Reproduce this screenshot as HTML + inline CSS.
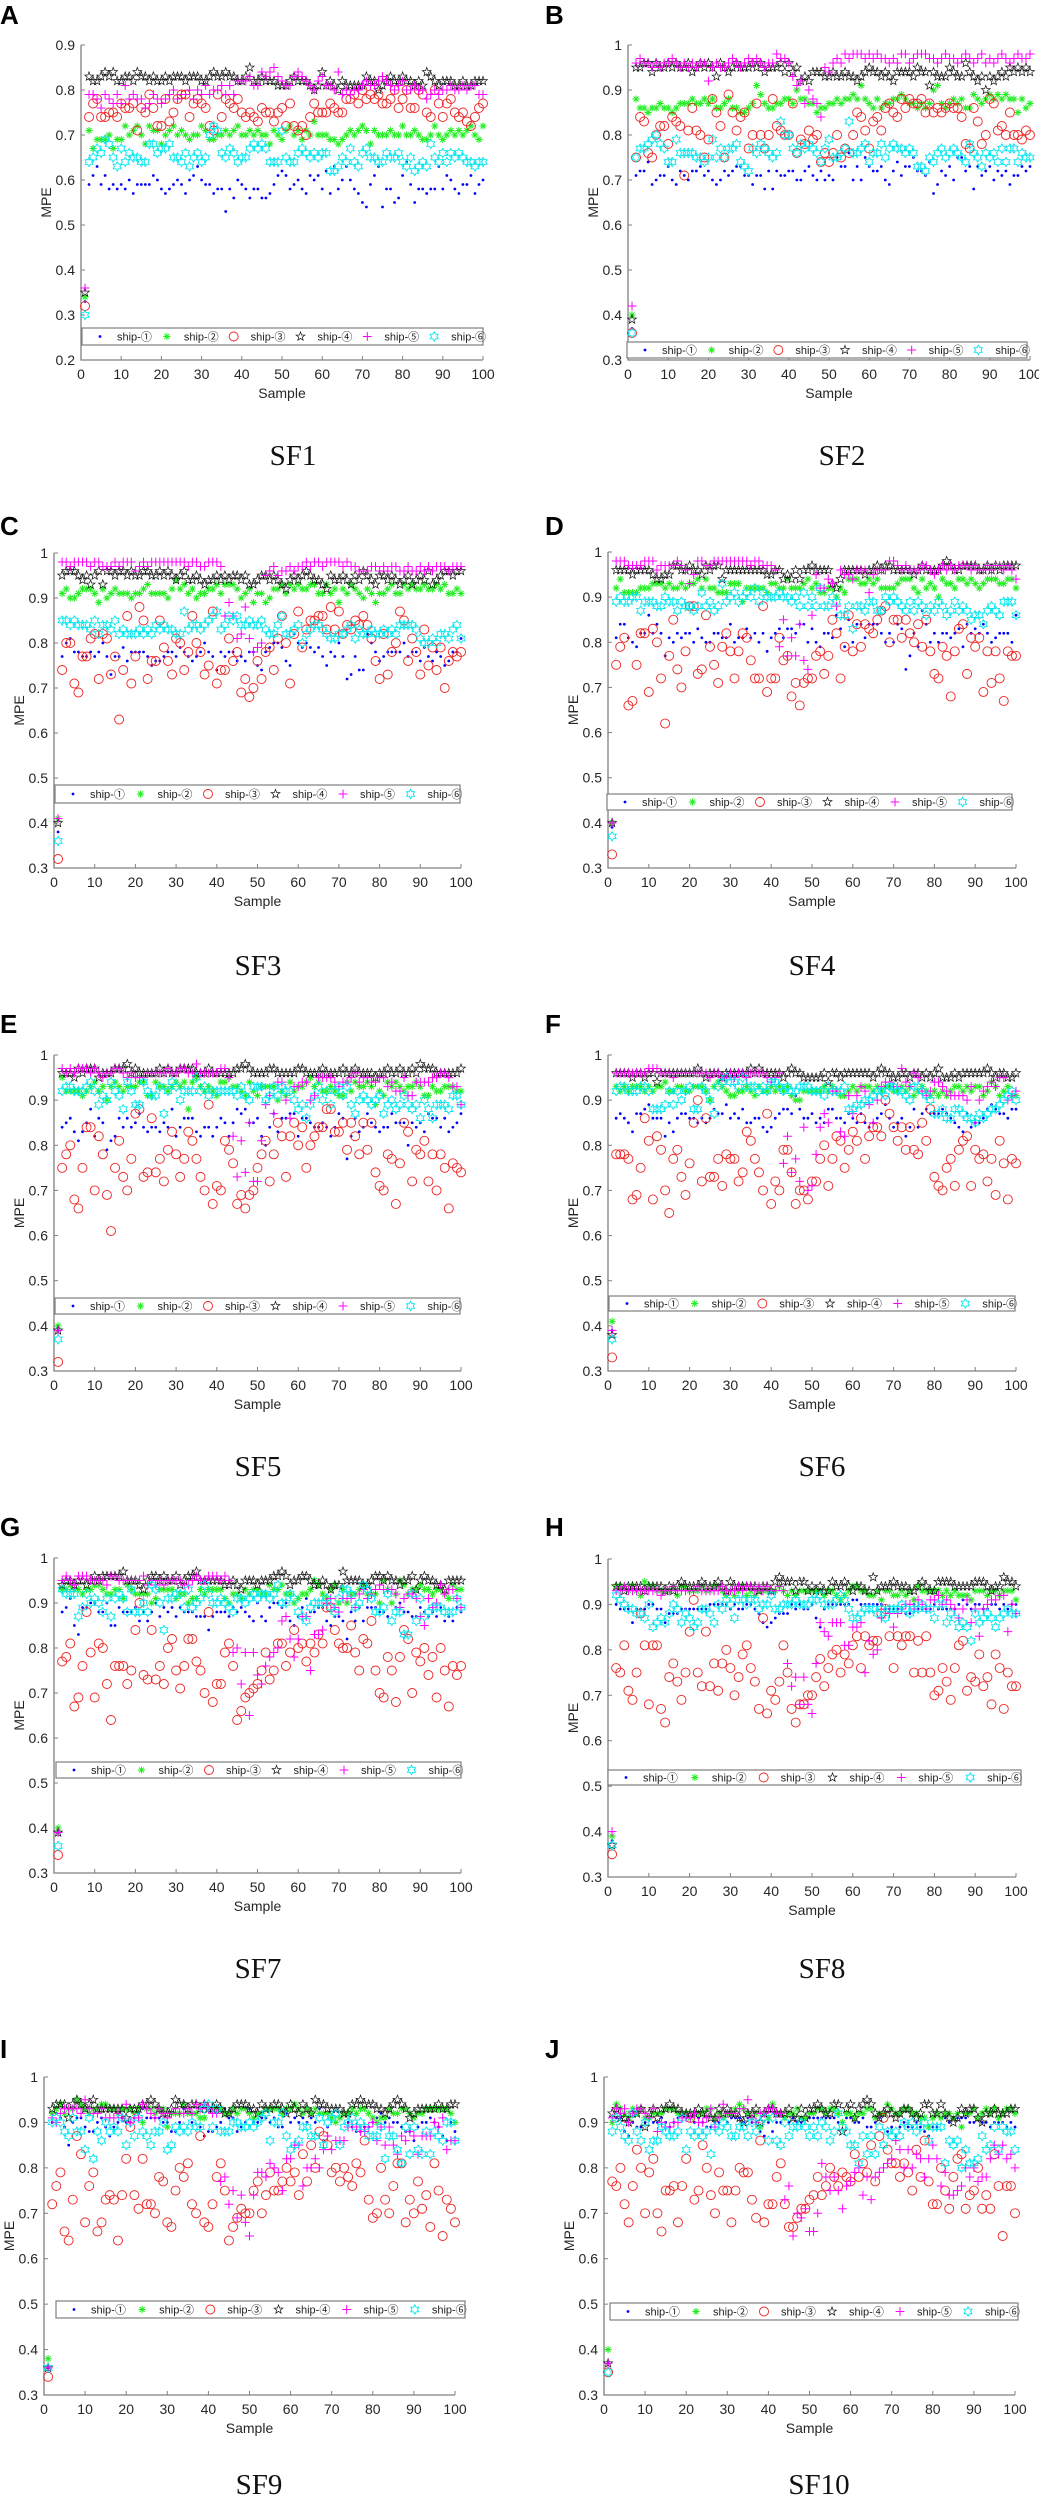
<!DOCTYPE html>
<html><head><meta charset="utf-8"><style>
html,body{margin:0;padding:0;background:#fff;}
svg{display:block;}
text{font-family:"Liberation Sans",sans-serif;}
</style></head>
<body>
<svg id="fig" xmlns="http://www.w3.org/2000/svg" width="1039" height="2500" viewBox="0 0 1039 2500"></svg>
<script>
// ===== DATA (MPE values per sample 1..100) =====
const sf1_s1=[.33,.59,.61,.63,.59,.61,.58,.59,.58,.59,.58,.60,.57,.59,.59,.59,.59,.61,.60,.58,.57,.58,.59,.60,.59,.57,.60,.61,.63,.60,.59,.59,.57,.58,.58,.53,.58,.56,.60,.59,.58,.56,.58,.58,.56,.56,.57,.59,.61,.62,.61,.58,.59,.60,.58,.57,.61,.60,.61,.58,.62,.57,.63,.58,.60,.63,.60,.58,.57,.55,.54,.59,.61,.63,.54,.58,.58,.55,.56,.61,.64,.59,.55,.58,.58,.57,.58,.58,.63,.58,.61,.60,.58,.57,.59,.59,.61,.57,.59,.60];
const sf1_s2=[.34,.71,.67,.69,.69,.69,.70,.67,.69,.69,.72,.70,.71,.72,.70,.68,.72,.71,.71,.68,.70,.71,.72,.70,.71,.70,.69,.70,.70,.72,.71,.69,.69,.70,.70,.71,.70,.71,.72,.70,.70,.71,.70,.71,.70,.70,.68,.71,.70,.69,.71,.72,.70,.71,.69,.71,.70,.73,.70,.70,.70,.69,.69,.68,.69,.70,.71,.70,.71,.72,.71,.68,.71,.70,.70,.70,.71,.70,.70,.72,.70,.70,.71,.70,.69,.69,.70,.72,.70,.69,.70,.71,.70,.71,.70,.71,.72,.70,.69,.72];
const sf1_s3=[.32,.74,.77,.78,.74,.74,.75,.75,.74,.77,.76,.76,.77,.71,.76,.75,.79,.76,.72,.72,.78,.73,.75,.78,.79,.79,.74,.77,.78,.77,.76,.72,.71,.79,.74,.78,.77,.76,.78,.75,.74,.75,.74,.73,.76,.75,.75,.73,.75,.76,.72,.77,.72,.71,.72,.70,.74,.77,.75,.75,.75,.77,.76,.75,.75,.78,.78,.79,.77,.80,.78,.79,.78,.79,.77,.77,.78,.80,.76,.78,.80,.76,.76,.80,.79,.75,.74,.80,.77,.74,.77,.78,.75,.74,.75,.73,.72,.74,.76,.77];
const sf1_s4=[.35,.83,.82,.82,.83,.84,.83,.84,.82,.82,.83,.83,.82,.84,.83,.83,.82,.83,.82,.82,.83,.82,.83,.83,.83,.82,.83,.83,.83,.82,.82,.83,.84,.83,.83,.84,.83,.83,.82,.82,.83,.85,.82,.82,.83,.82,.82,.82,.81,.81,.81,.82,.83,.82,.82,.82,.81,.80,.81,.84,.81,.82,.81,.80,.82,.81,.81,.81,.81,.81,.83,.82,.82,.80,.81,.82,.83,.82,.82,.83,.82,.82,.81,.82,.81,.84,.83,.82,.81,.82,.82,.82,.81,.81,.82,.81,.81,.82,.82,.82];
const sf1_s5=[.36,.79,.79,.78,.76,.79,.78,.77,.79,.77,.81,.78,.79,.78,.78,.76,.77,.79,.78,.77,.78,.79,.80,.78,.79,.79,.80,.78,.80,.79,.81,.79,.80,.80,.81,.79,.81,.79,.82,.82,.82,.83,.81,.81,.84,.83,.84,.85,.83,.82,.81,.81,.83,.84,.83,.82,.81,.80,.82,.83,.81,.81,.80,.84,.79,.80,.79,.80,.80,.81,.82,.81,.81,.82,.83,.82,.81,.80,.81,.82,.80,.80,.81,.80,.80,.78,.79,.80,.79,.80,.80,.81,.80,.80,.81,.80,.81,.81,.79,.79];
const sf1_s6=[.30,.64,.65,.67,.66,.69,.68,.65,.63,.67,.64,.66,.65,.65,.64,.64,.68,.68,.66,.67,.67,.68,.65,.65,.64,.66,.63,.65,.66,.64,.65,.70,.72,.71,.66,.65,.67,.66,.64,.65,.65,.67,.68,.67,.68,.67,.64,.64,.64,.71,.65,.64,.64,.66,.67,.66,.65,.66,.65,.66,.66,.62,.62,.63,.65,.64,.67,.64,.63,.66,.67,.65,.65,.64,.64,.66,.65,.65,.66,.64,.63,.65,.62,.63,.64,.63,.68,.65,.64,.66,.64,.66,.65,.66,.65,.64,.64,.63,.64,.64];

const sf2_s1=[.37,.71,.72,.72,.74,.69,.70,.71,.71,.73,.70,.69,.72,.71,.70,.72,.72,.73,.71,.72,.70,.69,.70,.72,.71,.72,.73,.73,.71,.71,.69,.71,.71,.68,.72,.68,.72,.71,.71,.72,.72,.70,.70,.72,.73,.71,.70,.72,.70,.71,.70,.75,.73,.73,.76,.70,.73,.70,.75,.73,.72,.72,.73,.70,.69,.72,.74,.71,.73,.73,.75,.72,.72,.71,.74,.67,.69,.72,.71,.73,.70,.75,.75,.72,.73,.68,.73,.71,.72,.73,.70,.72,.71,.72,.69,.71,.71,.73,.72,.73];
const sf2_s2=[.40,.88,.86,.86,.85,.86,.86,.87,.86,.86,.85,.86,.87,.87,.87,.88,.87,.87,.88,.87,.88,.86,.86,.87,.88,.86,.86,.85,.85,.86,.87,.91,.89,.87,.86,.86,.87,.87,.88,.88,.87,.90,.88,.88,.87,.87,.85,.86,.86,.87,.87,.88,.87,.88,.88,.89,.88,.91,.88,.87,.86,.88,.86,.87,.87,.88,.88,.89,.88,.87,.87,.86,.87,.86,.87,.90,.91,.87,.86,.87,.88,.87,.88,.86,.86,.89,.88,.87,.88,.89,.88,.89,.88,.89,.88,.88,.85,.88,.86,.87];
const sf2_s3=[.36,.75,.84,.83,.76,.75,.80,.82,.82,.78,.84,.83,.82,.71,.81,.86,.81,.80,.75,.79,.88,.85,.82,.75,.89,.85,.81,.84,.85,.77,.80,.87,.80,.77,.80,.88,.82,.81,.80,.80,.87,.76,.79,.78,.81,.79,.80,.74,.76,.74,.76,.80,.75,.77,.76,.80,.85,.84,.81,.77,.83,.84,.81,.86,.87,.85,.84,.88,.86,.88,.87,.87,.88,.85,.87,.85,.86,.85,.86,.87,.86,.86,.84,.78,.77,.86,.83,.78,.80,.88,.87,.81,.82,.80,.85,.80,.80,.79,.81,.80];
const sf2_s4=[.39,.95,.95,.96,.96,.94,.96,.95,.95,.96,.95,.96,.95,.95,.96,.94,.95,.96,.95,.96,.95,.93,.96,.95,.94,.95,.96,.95,.95,.95,.96,.95,.96,.94,.95,.95,.95,.96,.94,.96,.94,.95,.92,.93,.92,.94,.94,.94,.93,.93,.94,.93,.93,.94,.93,.93,.92,.93,.94,.95,.94,.94,.93,.94,.93,.92,.94,.94,.94,.94,.93,.95,.94,.94,.91,.94,.93,.93,.93,.95,.94,.93,.93,.96,.94,.93,.92,.93,.90,.93,.92,.93,.94,.93,.95,.94,.95,.94,.95,.94];
const sf2_s5=[.42,.96,.97,.96,.96,.95,.96,.95,.96,.96,.97,.96,.95,.96,.95,.96,.95,.96,.96,.92,.95,.96,.95,.95,.96,.97,.96,.95,.96,.97,.96,.97,.96,.95,.96,.96,.98,.97,.97,.96,.93,.91,.92,.87,.90,.88,.87,.84,.95,.94,.96,.97,.96,.98,.97,.98,.98,.98,.97,.98,.97,.98,.97,.97,.96,.97,.96,.98,.98,.96,.97,.98,.98,.98,.97,.97,.96,.97,.98,.97,.97,.96,.97,.98,.97,.96,.97,.98,.96,.97,.96,.97,.98,.97,.96,.97,.98,.97,.97,.98];
const sf2_s6=[.36,.75,.77,.77,.78,.79,.80,.78,.77,.74,.74,.79,.76,.76,.76,.76,.75,.75,.74,.75,.79,.75,.77,.75,.77,.77,.78,.74,.73,.72,.77,.76,.78,.77,.76,.75,.76,.83,.80,.80,.77,.76,.78,.77,.78,.77,.76,.74,.77,.79,.75,.75,.76,.77,.83,.76,.76,.77,.78,.74,.76,.76,.78,.75,.77,.78,.77,.77,.76,.77,.76,.73,.73,.72,.75,.74,.76,.77,.75,.76,.77,.76,.75,.74,.78,.76,.75,.73,.76,.75,.76,.74,.77,.74,.77,.77,.74,.76,.75,.75];

const sf3_s1=[.38,.77,.80,.81,.78,.78,.77,.77,.78,.77,.78,.80,.77,.73,.77,.77,.79,.76,.78,.78,.78,.78,.77,.75,.76,.76,.77,.78,.78,.77,.79,.78,.77,.76,.77,.78,.80,.78,.77,.74,.78,.77,.78,.78,.76,.77,.76,.78,.78,.75,.74,.78,.79,.80,.80,.79,.76,.75,.82,.80,.79,.80,.79,.78,.79,.77,.75,.78,.77,.80,.77,.72,.73,.77,.74,.74,.82,.80,.78,.76,.77,.78,.78,.78,.78,.80,.77,.78,.78,.76,.79,.77,.76,.78,.77,.75,.76,.78,.78,.81];
const sf3_s2=[.41,.91,.92,.90,.90,.91,.92,.92,.92,.91,.89,.92,.90,.91,.92,.91,.91,.91,.90,.91,.91,.92,.93,.91,.91,.91,.91,.90,.92,.94,.92,.93,.91,.92,.90,.91,.91,.92,.92,.93,.91,.93,.93,.93,.92,.90,.91,.92,.89,.91,.91,.89,.90,.92,.92,.93,.91,.93,.92,.93,.92,.92,.93,.93,.91,.91,.93,.91,.92,.89,.92,.91,.93,.92,.91,.90,.92,.91,.89,.91,.91,.92,.93,.91,.91,.93,.92,.93,.92,.92,.93,.92,.92,.93,.92,.93,.91,.91,.92,.91];
const sf3_s3=[.32,.74,.80,.80,.71,.69,.77,.77,.81,.82,.72,.82,.81,.73,.77,.63,.74,.86,.71,.77,.88,.85,.72,.76,.76,.85,.79,.76,.73,.81,.80,.74,.78,.86,.80,.78,.73,.75,.87,.71,.74,.74,.81,.76,.78,.69,.72,.68,.70,.76,.72,.78,.79,.74,.81,.86,.80,.71,.82,.87,.79,.83,.85,.85,.86,.86,.83,.88,.83,.87,.82,.84,.83,.85,.84,.86,.84,.81,.76,.72,.82,.73,.78,.80,.87,.85,.76,.81,.78,.73,.83,.75,.79,.74,.79,.70,.76,.78,.77,.78];
const sf3_s4=[.40,.95,.96,.96,.96,.95,.94,.95,.93,.95,.96,.93,.96,.96,.95,.96,.96,.95,.96,.95,.95,.96,.96,.95,.95,.96,.95,.96,.95,.94,.95,.96,.94,.94,.95,.94,.93,.94,.94,.95,.94,.95,.94,.95,.95,.94,.95,.93,.93,.94,.95,.95,.94,.95,.94,.93,.92,.94,.95,.94,.95,.96,.95,.94,.94,.93,.92,.95,.94,.94,.95,.94,.93,.95,.94,.96,.95,.94,.93,.95,.95,.94,.95,.94,.93,.94,.95,.93,.94,.95,.94,.96,.93,.94,.95,.96,.96,.95,.96,.96];
const sf3_s5=[.41,.98,.98,.97,.98,.98,.98,.98,.97,.98,.98,.97,.97,.97,.98,.97,.98,.98,.98,.96,.97,.98,.97,.98,.98,.98,.98,.98,.98,.98,.98,.98,.97,.98,.98,.97,.97,.98,.98,.98,.97,.86,.89,.86,.81,.82,.88,.81,.78,.79,.80,.95,.96,.97,.95,.96,.96,.97,.96,.97,.97,.98,.97,.98,.98,.97,.98,.98,.98,.98,.97,.98,.97,.97,.96,.96,.96,.97,.97,.96,.97,.96,.97,.97,.96,.96,.97,.96,.96,.97,.96,.97,.96,.97,.97,.97,.96,.97,.97,.97];
const sf3_s6=[.36,.85,.85,.84,.85,.84,.84,.84,.83,.85,.82,.84,.84,.83,.85,.82,.83,.82,.82,.82,.83,.82,.83,.82,.84,.83,.84,.83,.83,.82,.82,.87,.83,.84,.84,.83,.84,.85,.86,.87,.83,.84,.86,.85,.86,.84,.84,.85,.84,.84,.85,.83,.82,.82,.84,.86,.82,.82,.83,.84,.80,.82,.83,.84,.84,.83,.82,.81,.81,.82,.82,.83,.84,.81,.83,.82,.82,.83,.82,.82,.83,.82,.83,.82,.84,.84,.84,.84,.83,.81,.80,.80,.81,.80,.82,.82,.81,.83,.84,.81];

const sf4_s1=[.39,.81,.84,.84,.81,.80,.79,.82,.82,.86,.82,.84,.82,.77,.81,.80,.82,.81,.82,.82,.80,.83,.81,.80,.80,.82,.82,.81,.81,.84,.80,.81,.81,.83,.81,.82,.80,.82,.78,.81,.82,.83,.81,.83,.83,.82,.84,.84,.80,.83,.80,.79,.82,.82,.81,.86,.83,.79,.85,.80,.84,.84,.81,.84,.84,.84,.82,.80,.82,.80,.84,.83,.74,.77,.82,.79,.87,.84,.80,.82,.80,.82,.82,.81,.82,.83,.79,.84,.82,.83,.82,.84,.82,.80,.81,.82,.82,.82,.80,.86];
const sf4_s2=[.40,.92,.94,.91,.91,.91,.91,.92,.92,.92,.93,.93,.93,.92,.93,.92,.92,.93,.92,.93,.93,.94,.92,.94,.92,.92,.91,.91,.91,.93,.93,.93,.89,.92,.92,.92,.92,.92,.91,.93,.93,.92,.92,.94,.92,.92,.92,.93,.94,.92,.93,.91,.91,.92,.92,.90,.92,.91,.94,.94,.94,.93,.93,.94,.93,.94,.92,.92,.92,.92,.93,.94,.94,.94,.92,.91,.94,.92,.93,.92,.90,.94,.93,.93,.92,.94,.94,.93,.94,.93,.92,.93,.94,.94,.94,.93,.93,.94,.94,.92];
const sf4_s3=[.33,.75,.79,.81,.66,.67,.75,.82,.82,.69,.83,.80,.72,.62,.77,.85,.74,.70,.78,.88,.88,.73,.74,.86,.79,.75,.71,.79,.82,.78,.72,.78,.82,.81,.76,.72,.72,.88,.69,.72,.72,.81,.76,.77,.68,.71,.66,.71,.72,.72,.77,.78,.73,.77,.85,.82,.72,.79,.86,.78,.84,.79,.84,.83,.82,.85,.87,.88,.80,.85,.85,.81,.85,.82,.80,.84,.79,.85,.78,.73,.72,.79,.77,.68,.78,.83,.84,.73,.81,.79,.81,.69,.78,.71,.78,.72,.67,.78,.77,.77];
const sf4_s4=[.40,.96,.96,.96,.96,.95,.96,.96,.96,.96,.95,.94,.94,.95,.95,.97,.97,.96,.96,.97,.96,.96,.95,.97,.96,.97,.97,.94,.96,.96,.96,.96,.96,.96,.96,.96,.96,.96,.95,.95,.96,.96,.94,.95,.94,.96,.94,.96,.96,.97,.96,.96,.96,.96,.93,.92,.94,.96,.96,.96,.96,.96,.95,.96,.96,.97,.96,.97,.97,.96,.96,.96,.96,.96,.95,.96,.97,.96,.96,.96,.96,.97,.98,.97,.96,.96,.97,.97,.97,.97,.96,.96,.97,.96,.97,.96,.97,.97,.97,.97];
const sf4_s5=[.40,.98,.98,.98,.97,.97,.97,.97,.98,.98,.98,.96,.97,.97,.97,.97,.98,.97,.96,.93,.95,.98,.98,.97,.97,.98,.98,.98,.98,.98,.98,.98,.98,.98,.97,.98,.98,.97,.97,.97,.96,.79,.85,.77,.81,.77,.84,.76,.74,.86,.95,.92,.92,.94,.93,.88,.96,.95,.95,.94,.96,.96,.96,.91,.95,.96,.96,.96,.98,.98,.97,.96,.97,.96,.96,.96,.97,.97,.96,.95,.96,.97,.96,.97,.96,.97,.97,.97,.96,.97,.96,.96,.97,.96,.97,.97,.96,.97,.96,.94];
const sf4_s6=[.37,.89,.90,.89,.89,.90,.90,.87,.89,.89,.89,.88,.88,.90,.89,.89,.87,.89,.88,.88,.87,.88,.91,.88,.89,.87,.88,.93,.89,.90,.91,.89,.90,.91,.90,.92,.89,.91,.90,.90,.90,.91,.90,.90,.89,.90,.88,.91,.88,.90,.88,.92,.88,.88,.90,.89,.86,.86,.88,.83,.88,.88,.87,.89,.89,.87,.87,.90,.89,.90,.89,.88,.87,.89,.87,.89,.88,.86,.88,.87,.89,.88,.86,.87,.89,.87,.88,.87,.85,.86,.86,.84,.87,.88,.87,.86,.89,.89,.89,.86];

const sf5_s1=[.39,.84,.85,.86,.83,.81,.83,.85,.88,.82,.86,.85,.79,.81,.82,.86,.84,.86,.84,.85,.87,.84,.83,.84,.84,.83,.85,.84,.88,.82,.84,.86,.86,.86,.83,.82,.84,.84,.82,.84,.86,.85,.82,.85,.88,.87,.88,.85,.85,.86,.82,.80,.84,.87,.83,.86,.86,.87,.87,.82,.86,.86,.85,.84,.84,.85,.84,.82,.84,.87,.86,.77,.82,.86,.83,.84,.87,.85,.84,.83,.84,.84,.87,.85,.85,.85,.80,.85,.84,.85,.83,.87,.86,.86,.84,.86,.83,.84,.85,.87];
const sf5_s2=[.40,.95,.92,.92,.92,.92,.91,.92,.93,.94,.92,.93,.90,.93,.94,.93,.92,.93,.93,.93,.94,.94,.91,.91,.94,.93,.93,.92,.93,.94,.93,.94,.88,.94,.95,.93,.92,.93,.92,.91,.94,.94,.95,.93,.93,.92,.91,.94,.92,.91,.93,.93,.93,.93,.90,.92,.91,.94,.92,.93,.93,.94,.95,.93,.94,.92,.92,.93,.92,.91,.91,.94,.92,.94,.93,.93,.94,.93,.89,.92,.91,.94,.93,.94,.93,.92,.93,.93,.94,.93,.91,.91,.93,.92,.92,.93,.93,.93,.92,.92];
const sf5_s3=[.32,.75,.78,.80,.68,.66,.75,.84,.84,.70,.82,.78,.69,.61,.75,.81,.73,.70,.77,.87,.88,.73,.74,.86,.74,.77,.72,.79,.83,.78,.73,.77,.83,.81,.77,.73,.70,.89,.67,.71,.70,.81,.79,.76,.67,.69,.66,.69,.70,.75,.78,.81,.72,.78,.85,.82,.73,.82,.85,.80,.84,.75,.80,.82,.84,.84,.88,.88,.83,.83,.85,.79,.85,.82,.78,.85,.79,.85,.74,.71,.70,.78,.77,.67,.76,.85,.83,.72,.79,.78,.81,.72,.78,.70,.78,.75,.66,.76,.75,.74];
const sf5_s4=[.39,.96,.96,.96,.95,.97,.96,.97,.97,.97,.95,.96,.96,.96,.97,.97,.97,.98,.96,.97,.96,.96,.96,.96,.96,.97,.96,.97,.96,.96,.97,.97,.97,.97,.96,.96,.96,.97,.96,.96,.96,.96,.96,.96,.97,.97,.98,.97,.96,.96,.96,.96,.97,.97,.96,.96,.96,.96,.96,.97,.97,.96,.96,.96,.96,.97,.96,.96,.96,.96,.97,.96,.96,.97,.96,.96,.96,.96,.95,.96,.96,.97,.96,.96,.97,.96,.96,.97,.96,.98,.97,.97,.97,.96,.96,.96,.96,.96,.96,.97];
const sf5_s5=[.39,.97,.96,.97,.96,.97,.97,.97,.96,.97,.96,.95,.96,.96,.97,.97,.96,.95,.96,.95,.95,.95,.96,.96,.96,.96,.96,.97,.96,.96,.97,.97,.96,.96,.98,.96,.96,.96,.96,.96,.97,.97,.95,.82,.73,.81,.74,.85,.72,.72,.81,.89,.91,.87,.94,.94,.90,.86,.93,.93,.94,.94,.90,.91,.95,.95,.95,.95,.94,.93,.94,.94,.95,.96,.94,.95,.95,.94,.94,.95,.95,.93,.94,.92,.92,.95,.91,.91,.94,.94,.94,.94,.95,.95,.96,.96,.95,.93,.93,.89];
const sf5_s6=[.37,.92,.93,.93,.92,.92,.92,.93,.94,.92,.89,.91,.90,.94,.92,.91,.88,.94,.92,.89,.89,.94,.92,.91,.91,.93,.87,.92,.94,.93,.90,.92,.92,.92,.95,.92,.93,.91,.92,.92,.92,.92,.92,.92,.91,.93,.91,.90,.93,.93,.93,.90,.91,.93,.91,.93,.92,.92,.90,.88,.89,.86,.89,.91,.93,.90,.92,.89,.92,.93,.91,.93,.89,.87,.90,.91,.90,.89,.90,.91,.87,.89,.90,.88,.89,.91,.89,.88,.89,.86,.90,.88,.86,.89,.89,.89,.88,.91,.91,.89];

const sf6_s1=[.39,.86,.87,.86,.85,.83,.87,.87,.88,.89,.86,.86,.86,.82,.85,.83,.86,.87,.87,.86,.86,.85,.86,.85,.86,.88,.87,.87,.89,.86,.87,.86,.88,.85,.85,.86,.86,.84,.83,.84,.86,.87,.88,.88,.87,.91,.88,.86,.86,.87,.85,.86,.85,.88,.88,.86,.86,.85,.87,.86,.85,.87,.85,.84,.85,.86,.87,.89,.86,.84,.85,.86,.82,.84,.88,.84,.87,.88,.87,.87,.87,.88,.87,.86,.85,.84,.83,.87,.84,.85,.85,.86,.88,.89,.88,.87,.87,.86,.88,.88];
const sf6_s2=[.41,.93,.92,.93,.92,.93,.93,.93,.92,.93,.92,.93,.93,.94,.92,.92,.93,.93,.92,.92,.93,.93,.93,.92,.90,.93,.94,.93,.92,.91,.91,.92,.92,.93,.92,.91,.93,.92,.92,.93,.92,.93,.92,.93,.91,.90,.90,.92,.92,.92,.92,.92,.93,.92,.93,.92,.91,.91,.92,.93,.92,.93,.93,.93,.92,.93,.92,.93,.93,.92,.92,.93,.92,.93,.91,.92,.93,.92,.91,.92,.91,.92,.91,.92,.93,.93,.92,.93,.92,.93,.93,.91,.92,.94,.93,.91,.92,.93,.91,.91];
const sf6_s3=[.33,.78,.78,.78,.77,.68,.69,.75,.86,.81,.68,.82,.79,.70,.65,.77,.79,.73,.69,.76,.85,.90,.72,.86,.73,.73,.77,.71,.78,.77,.77,.72,.74,.83,.81,.77,.74,.70,.87,.67,.72,.70,.79,.79,.74,.67,.70,.70,.68,.72,.72,.77,.80,.71,.77,.82,.81,.75,.79,.83,.81,.86,.77,.82,.84,.84,.82,.90,.87,.84,.81,.84,.79,.84,.79,.78,.85,.81,.88,.73,.71,.70,.75,.77,.71,.79,.81,.82,.71,.79,.77,.78,.72,.77,.69,.81,.76,.68,.77,.76];
const sf6_s4=[.38,.96,.96,.96,.96,.95,.96,.96,.95,.96,.96,.94,.96,.96,.96,.96,.96,.96,.96,.96,.96,.97,.96,.95,.96,.96,.96,.95,.96,.96,.96,.96,.96,.96,.97,.96,.97,.96,.96,.96,.96,.96,.95,.96,.97,.96,.96,.95,.95,.95,.95,.95,.96,.94,.96,.96,.95,.96,.96,.96,.96,.96,.96,.96,.95,.96,.97,.96,.96,.95,.95,.96,.96,.95,.96,.96,.95,.96,.95,.96,.97,.95,.95,.95,.96,.95,.96,.96,.96,.96,.96,.96,.97,.96,.95,.96,.96,.95,.95,.96];
const sf6_s5=[.39,.96,.96,.96,.96,.96,.96,.96,.96,.97,.97,.97,.96,.96,.96,.95,.96,.96,.96,.96,.96,.96,.96,.96,.95,.96,.96,.95,.95,.96,.95,.96,.96,.95,.96,.96,.96,.96,.95,.94,.95,.96,.76,.82,.74,.77,.72,.84,.70,.71,.78,.84,.87,.85,.92,.92,.83,.82,.91,.87,.91,.93,.92,.89,.85,.90,.93,.94,.94,.93,.93,.97,.94,.93,.96,.95,.92,.91,.92,.94,.94,.93,.92,.91,.91,.91,.91,.90,.93,.85,.90,.92,.93,.94,.93,.95,.95,.90,.91,.92];
const sf6_s6=[.37,.92,.93,.93,.92,.92,.92,.93,.93,.92,.88,.88,.88,.89,.92,.89,.92,.90,.92,.93,.88,.88,.93,.92,.90,.87,.93,.94,.95,.94,.94,.93,.95,.93,.93,.93,.92,.93,.92,.94,.94,.93,.92,.93,.92,.92,.93,.93,.93,.92,.92,.92,.91,.93,.92,.92,.92,.93,.88,.88,.89,.89,.90,.90,.91,.92,.92,.91,.93,.93,.92,.92,.91,.90,.93,.93,.92,.91,.90,.87,.87,.88,.86,.86,.88,.88,.87,.86,.86,.85,.87,.86,.87,.88,.88,.89,.90,.91,.92,.90];

const sf7_s1=[.39,.88,.89,.91,.85,.83,.89,.89,.90,.90,.88,.88,.90,.85,.85,.89,.88,.88,.88,.89,.86,.88,.86,.88,.90,.87,.89,.88,.89,.87,.89,.88,.88,.88,.87,.87,.87,.84,.87,.88,.88,.88,.87,.89,.88,.89,.88,.87,.86,.90,.87,.86,.89,.90,.90,.89,.90,.86,.85,.87,.89,.91,.88,.88,.89,.89,.86,.85,.87,.87,.86,.82,.88,.86,.89,.86,.89,.89,.89,.88,.88,.87,.90,.89,.90,.88,.88,.87,.87,.89,.88,.87,.88,.87,.89,.86,.87,.86,.89,.88];
const sf7_s2=[.40,.93,.93,.94,.93,.93,.92,.93,.93,.94,.94,.93,.92,.92,.93,.93,.91,.94,.93,.92,.92,.92,.92,.90,.91,.93,.93,.93,.93,.91,.92,.92,.90,.91,.91,.93,.92,.93,.93,.93,.93,.91,.90,.92,.92,.91,.93,.92,.93,.93,.92,.92,.94,.93,.93,.94,.92,.92,.90,.91,.92,.92,.93,.95,.94,.92,.91,.93,.94,.90,.93,.90,.92,.92,.93,.94,.92,.92,.92,.90,.95,.93,.90,.92,.95,.94,.92,.93,.93,.94,.93,.93,.92,.93,.93,.92,.91,.94,.93,.93];
const sf7_s3=[.34,.77,.78,.81,.67,.69,.76,.88,.79,.69,.81,.80,.72,.64,.76,.76,.76,.72,.75,.84,.90,.74,.73,.84,.73,.76,.72,.80,.82,.75,.71,.76,.82,.82,.77,.75,.70,.88,.68,.72,.72,.79,.81,.76,.64,.66,.69,.70,.71,.72,.75,.79,.73,.75,.81,.81,.76,.79,.84,.80,.81,.77,.81,.79,.83,.81,.89,.89,.84,.81,.80,.80,.85,.79,.75,.82,.81,.86,.75,.70,.69,.78,.75,.68,.78,.84,.82,.70,.79,.77,.80,.74,.78,.69,.80,.75,.67,.76,.74,.76];
const sf7_s4=[.39,.94,.95,.95,.94,.95,.95,.94,.95,.96,.95,.96,.96,.96,.96,.96,.97,.95,.95,.95,.94,.93,.95,.96,.96,.95,.96,.95,.95,.96,.94,.95,.96,.96,.97,.95,.95,.95,.95,.95,.95,.94,.94,.95,.94,.93,.95,.95,.95,.94,.95,.95,.95,.96,.96,.97,.96,.94,.95,.95,.96,.96,.95,.94,.94,.95,.94,.93,.94,.94,.97,.95,.95,.95,.95,.94,.94,.95,.96,.96,.95,.96,.95,.95,.94,.95,.95,.96,.93,.95,.96,.95,.95,.94,.94,.93,.95,.95,.95,.95];
const sf7_s5=[.39,.95,.96,.95,.94,.96,.96,.96,.95,.95,.95,.95,.94,.96,.96,.95,.95,.95,.95,.95,.95,.96,.94,.95,.94,.95,.94,.95,.95,.95,.95,.94,.94,.95,.96,.95,.95,.96,.96,.96,.95,.96,.95,.79,.80,.72,.79,.65,.79,.74,.72,.76,.78,.79,.80,.86,.87,.82,.78,.82,.87,.87,.75,.83,.83,.84,.90,.91,.89,.88,.91,.91,.91,.89,.92,.93,.91,.92,.93,.94,.93,.93,.93,.92,.89,.91,.92,.92,.91,.87,.85,.91,.89,.90,.94,.92,.93,.93,.91,.89];
const sf7_s6=[.36,.93,.92,.92,.92,.87,.89,.92,.90,.91,.90,.88,.91,.87,.91,.92,.91,.88,.93,.88,.88,.90,.88,.94,.93,.90,.84,.91,.91,.92,.92,.89,.93,.89,.90,.91,.94,.92,.90,.90,.91,.90,.89,.88,.91,.91,.90,.91,.92,.91,.92,.92,.91,.92,.94,.90,.90,.92,.91,.88,.87,.86,.89,.90,.90,.90,.91,.89,.88,.91,.93,.93,.92,.89,.90,.94,.93,.91,.88,.88,.89,.92,.86,.88,.88,.83,.83,.92,.86,.91,.87,.88,.89,.89,.89,.88,.88,.88,.91,.89];

const sf8_s1=[.38,.90,.89,.89,.89,.86,.89,.89,.89,.90,.90,.89,.89,.86,.88,.88,.88,.89,.89,.89,.89,.89,.89,.89,.90,.90,.90,.90,.90,.89,.90,.89,.89,.90,.90,.89,.88,.86,.85,.86,.87,.88,.88,.88,.90,.89,.90,.89,.89,.90,.87,.85,.89,.90,.90,.90,.90,.90,.90,.91,.91,.90,.90,.90,.90,.90,.90,.89,.89,.89,.89,.89,.88,.88,.90,.89,.89,.89,.89,.90,.89,.89,.89,.89,.89,.90,.91,.90,.89,.90,.90,.89,.89,.90,.90,.89,.90,.89,.90,.90];
const sf8_s2=[.39,.94,.94,.94,.93,.94,.93,.92,.95,.94,.94,.93,.93,.93,.93,.94,.92,.94,.94,.93,.93,.93,.94,.93,.93,.94,.94,.93,.92,.93,.92,.93,.94,.92,.93,.92,.93,.93,.93,.93,.93,.94,.93,.92,.93,.92,.93,.93,.93,.93,.93,.93,.92,.93,.93,.92,.91,.92,.93,.94,.94,.93,.93,.92,.92,.93,.91,.93,.93,.92,.92,.93,.92,.93,.91,.94,.93,.93,.93,.93,.93,.92,.93,.92,.93,.92,.92,.92,.91,.93,.93,.93,.92,.93,.93,.92,.93,.93,.93,.91];
const sf8_s3=[.35,.76,.75,.81,.71,.69,.75,.88,.81,.68,.81,.81,.67,.64,.74,.77,.73,.69,.75,.84,.91,.75,.72,.84,.72,.77,.71,.77,.80,.76,.70,.74,.79,.81,.76,.73,.67,.87,.66,.71,.69,.73,.81,.75,.67,.64,.68,.68,.70,.70,.74,.78,.72,.76,.79,.80,.75,.79,.77,.81,.83,.76,.83,.81,.82,.82,.88,.89,.83,.76,.83,.81,.83,.83,.75,.82,.75,.83,.75,.70,.71,.76,.73,.69,.76,.81,.82,.71,.74,.73,.79,.72,.74,.68,.79,.76,.67,.75,.72,.72];
const sf8_s4=[.37,.94,.94,.93,.94,.94,.94,.94,.93,.94,.94,.94,.94,.93,.94,.93,.94,.95,.94,.94,.94,.94,.95,.94,.94,.94,.95,.94,.93,.95,.94,.94,.94,.94,.94,.94,.93,.94,.94,.93,.95,.96,.95,.95,.95,.93,.95,.95,.93,.94,.93,.94,.93,.93,.95,.94,.94,.95,.94,.93,.94,.94,.93,.93,.96,.93,.94,.94,.94,.95,.94,.94,.94,.93,.93,.94,.95,.94,.93,.93,.95,.95,.95,.95,.94,.94,.94,.94,.94,.95,.95,.95,.94,.93,.94,.94,.96,.95,.95,.94];
const sf8_s5=[.40,.93,.93,.94,.93,.93,.93,.93,.93,.93,.93,.93,.92,.93,.93,.94,.93,.93,.93,.93,.93,.94,.93,.93,.93,.93,.93,.94,.93,.93,.93,.94,.93,.94,.94,.93,.94,.93,.94,.93,.93,.94,.93,.77,.72,.74,.68,.74,.68,.66,.77,.86,.84,.83,.86,.86,.86,.81,.81,.85,.85,.86,.75,.82,.79,.80,.87,.89,.88,.85,.88,.89,.90,.90,.89,.91,.90,.89,.91,.91,.92,.90,.91,.90,.89,.87,.89,.91,.86,.89,.83,.89,.90,.91,.91,.92,.92,.84,.90,.88];
const sf8_s6=[.37,.92,.91,.90,.89,.89,.88,.88,.87,.90,.85,.86,.87,.86,.88,.90,.89,.86,.88,.87,.85,.86,.89,.89,.88,.86,.90,.89,.91,.90,.87,.91,.91,.90,.91,.91,.89,.90,.90,.92,.89,.89,.90,.90,.90,.91,.90,.90,.90,.91,.91,.92,.90,.90,.90,.91,.92,.91,.89,.87,.87,.88,.89,.89,.89,.88,.89,.87,.89,.89,.89,.90,.89,.88,.89,.89,.90,.89,.89,.87,.90,.90,.86,.88,.87,.85,.86,.85,.82,.88,.86,.87,.88,.87,.85,.87,.88,.89,.88,.88];

const sf9_s1=[.36,.90,.92,.91,.89,.85,.90,.91,.91,.89,.88,.88,.90,.91,.89,.87,.89,.90,.91,.90,.90,.91,.92,.93,.91,.91,.91,.91,.90,.90,.88,.88,.90,.93,.92,.90,.92,.89,.87,.88,.88,.89,.90,.93,.91,.91,.88,.89,.90,.93,.90,.90,.91,.91,.90,.91,.89,.89,.92,.90,.91,.90,.91,.90,.91,.90,.93,.86,.89,.91,.90,.91,.92,.90,.89,.88,.88,.89,.89,.90,.91,.92,.90,.91,.90,.90,.89,.88,.88,.86,.89,.90,.90,.91,.90,.89,.87,.86,.90,.88];
const sf9_s2=[.38,.92,.93,.94,.92,.93,.93,.95,.94,.93,.92,.93,.93,.94,.94,.93,.93,.92,.93,.93,.93,.92,.93,.90,.93,.93,.92,.93,.93,.89,.92,.92,.92,.94,.92,.92,.92,.91,.91,.93,.93,.93,.93,.92,.92,.93,.92,.93,.93,.92,.91,.92,.92,.93,.93,.93,.93,.92,.93,.93,.94,.93,.92,.93,.92,.93,.92,.92,.92,.91,.90,.91,.92,.92,.93,.92,.93,.93,.92,.91,.90,.91,.91,.93,.92,.92,.93,.93,.92,.91,.92,.92,.93,.93,.93,.93,.93,.93,.92,.90];
const sf9_s3=[.34,.72,.76,.79,.66,.64,.73,.87,.83,.68,.76,.79,.66,.68,.73,.74,.73,.64,.74,.82,.89,.74,.71,.82,.72,.72,.70,.78,.77,.68,.67,.75,.80,.78,.81,.72,.70,.87,.68,.67,.72,.78,.81,.75,.64,.67,.69,.71,.70,.70,.75,.77,.70,.74,.79,.75,.75,.77,.80,.77,.79,.74,.83,.77,.85,.80,.88,.87,.85,.79,.80,.77,.80,.78,.76,.81,.79,.86,.73,.69,.70,.80,.73,.70,.76,.81,.81,.68,.73,.70,.77,.71,.74,.67,.81,.75,.65,.73,.71,.68];
const sf9_s4=[.36,.93,.94,.94,.94,.91,.94,.95,.94,.93,.94,.95,.93,.93,.93,.93,.93,.93,.93,.91,.93,.93,.93,.94,.94,.95,.94,.93,.92,.92,.93,.95,.94,.94,.93,.94,.94,.93,.94,.93,.93,.94,.93,.92,.92,.93,.94,.94,.94,.93,.93,.92,.94,.93,.93,.94,.94,.93,.92,.94,.93,.92,.94,.93,.92,.95,.94,.94,.93,.93,.93,.93,.92,.92,.94,.94,.95,.94,.94,.94,.93,.93,.92,.93,.94,.95,.94,.93,.91,.92,.93,.93,.93,.93,.93,.94,.93,.93,.94,.94];
const sf9_s5=[.36,.91,.90,.92,.93,.93,.93,.93,.92,.95,.93,.92,.92,.93,.91,.91,.91,.92,.91,.94,.90,.91,.91,.94,.93,.92,.91,.93,.92,.91,.92,.93,.92,.92,.93,.92,.94,.93,.94,.93,.92,.92,.77,.78,.72,.75,.69,.74,.68,.65,.74,.79,.79,.78,.81,.80,.79,.75,.82,.82,.85,.85,.76,.80,.80,.82,.80,.84,.87,.84,.86,.86,.86,.89,.89,.89,.88,.88,.89,.90,.86,.89,.85,.89,.85,.83,.87,.86,.88,.87,.83,.87,.87,.87,.90,.89,.91,.84,.86,.86];
const sf9_s6=[.36,.90,.91,.90,.88,.87,.91,.88,.88,.84,.91,.82,.88,.86,.90,.88,.89,.88,.91,.85,.90,.87,.91,.88,.87,.85,.88,.88,.90,.84,.85,.89,.88,.89,.88,.90,.89,.89,.93,.94,.89,.93,.88,.88,.88,.90,.90,.89,.89,.90,.89,.90,.91,.92,.86,.90,.90,.92,.87,.84,.85,.86,.89,.89,.87,.87,.91,.85,.90,.91,.92,.85,.89,.90,.91,.89,.90,.89,.87,.87,.87,.89,.82,.87,.87,.84,.81,.89,.83,.89,.84,.83,.88,.83,.88,.87,.86,.90,.90,.86];

const sf10_s1=[.37,.90,.91,.91,.88,.87,.90,.89,.89,.90,.91,.90,.90,.91,.90,.89,.90,.91,.92,.91,.91,.90,.91,.90,.89,.89,.90,.90,.91,.90,.91,.91,.91,.90,.91,.90,.90,.88,.87,.90,.88,.90,.90,.91,.90,.91,.90,.90,.91,.91,.91,.91,.91,.91,.91,.91,.90,.90,.91,.91,.90,.90,.91,.89,.89,.90,.91,.92,.88,.89,.87,.89,.90,.89,.89,.90,.89,.88,.87,.89,.89,.91,.91,.90,.91,.91,.91,.91,.90,.90,.91,.90,.90,.89,.90,.90,.90,.89,.90,.89];
const sf10_s2=[.40,.90,.94,.93,.92,.91,.93,.92,.93,.91,.91,.92,.92,.92,.93,.93,.93,.92,.92,.92,.91,.92,.92,.92,.93,.93,.91,.92,.91,.92,.92,.93,.94,.93,.92,.91,.92,.89,.92,.91,.94,.92,.92,.91,.92,.92,.93,.91,.91,.92,.92,.93,.93,.92,.93,.93,.92,.90,.92,.92,.91,.92,.92,.93,.93,.91,.92,.92,.94,.93,.92,.92,.93,.93,.92,.92,.91,.91,.89,.91,.92,.91,.92,.92,.91,.92,.89,.92,.92,.93,.91,.92,.93,.92,.93,.91,.92,.93,.93,.92];
const sf10_s3=[.35,.77,.76,.80,.72,.68,.76,.84,.80,.70,.79,.82,.70,.66,.75,.75,.76,.68,.76,.82,.91,.73,.75,.85,.80,.74,.70,.79,.75,.75,.68,.75,.80,.79,.79,.73,.69,.86,.68,.72,.72,.78,.81,.72,.67,.67,.69,.71,.71,.73,.74,.78,.74,.76,.80,.78,.76,.79,.78,.77,.83,.78,.81,.79,.85,.77,.87,.91,.84,.81,.81,.78,.81,.79,.75,.84,.78,.86,.77,.72,.72,.80,.75,.71,.78,.82,.83,.71,.74,.75,.80,.71,.74,.71,.83,.76,.65,.76,.76,.70];
const sf10_s4=[.37,.92,.93,.91,.91,.90,.92,.92,.93,.89,.92,.93,.91,.93,.93,.94,.93,.93,.92,.92,.92,.92,.93,.92,.92,.91,.91,.93,.92,.93,.92,.92,.91,.90,.92,.92,.93,.90,.92,.93,.93,.92,.92,.92,.93,.91,.91,.93,.91,.93,.93,.94,.93,.92,.92,.94,.94,.88,.93,.94,.91,.93,.94,.95,.94,.92,.91,.92,.93,.92,.91,.92,.93,.93,.92,.91,.92,.94,.94,.92,.92,.94,.92,.91,.90,.91,.93,.92,.93,.93,.91,.90,.92,.92,.93,.92,.92,.92,.93,.93];
const sf10_s5=[.37,.91,.93,.92,.93,.90,.92,.93,.93,.92,.91,.93,.88,.90,.89,.89,.90,.90,.91,.91,.91,.92,.90,.90,.91,.93,.89,.91,.94,.92,.92,.92,.93,.93,.95,.91,.90,.92,.92,.93,.93,.92,.92,.73,.76,.65,.70,.69,.71,.66,.66,.70,.81,.78,.75,.78,.75,.71,.76,.77,.79,.80,.74,.78,.73,.78,.79,.80,.81,.82,.86,.84,.80,.84,.80,.83,.82,.78,.82,.85,.82,.76,.79,.74,.74,.75,.76,.80,.78,.80,.77,.78,.78,.82,.85,.83,.85,.82,.83,.80];
const sf10_s6=[.35,.88,.91,.89,.87,.86,.92,.88,.86,.90,.84,.86,.86,.89,.88,.87,.87,.88,.91,.84,.88,.87,.88,.87,.88,.83,.89,.88,.90,.89,.87,.87,.89,.89,.87,.90,.88,.90,.91,.86,.91,.86,.85,.90,.87,.89,.89,.90,.89,.87,.89,.87,.90,.89,.86,.88,.92,.89,.88,.85,.85,.81,.87,.83,.87,.83,.89,.85,.88,.87,.88,.87,.90,.89,.90,.88,.89,.90,.86,.89,.89,.89,.81,.86,.85,.86,.80,.84,.81,.81,.82,.87,.84,.85,.89,.84,.89,.88,.88,.84];

const seriesNames=["ship-①","ship-②","ship-③","ship-④","ship-⑤","ship-⑥"];
const xTicks=[0,10,20,30,40,50,60,70,80,90,100];
const yTicksA=[0.2,0.3,0.4,0.5,0.6,0.7,0.8,0.9];
const yTicksB=[0.3,0.4,0.5,0.6,0.7,0.8,0.9,1];
const captions=["SF1","SF2","SF3","SF4","SF5","SF6","SF7","SF8","SF9","SF10"];
const letters=["A","B","C","D","E","F","G","H","I","J"];
const panelData=[
 [sf1_s1,sf1_s2,sf1_s3,sf1_s4,sf1_s5,sf1_s6],
 [sf2_s1,sf2_s2,sf2_s3,sf2_s4,sf2_s5,sf2_s6],
 [sf3_s1,sf3_s2,sf3_s3,sf3_s4,sf3_s5,sf3_s6],
 [sf4_s1,sf4_s2,sf4_s3,sf4_s4,sf4_s5,sf4_s6],
 [sf5_s1,sf5_s2,sf5_s3,sf5_s4,sf5_s5,sf5_s6],
 [sf6_s1,sf6_s2,sf6_s3,sf6_s4,sf6_s5,sf6_s6],
 [sf7_s1,sf7_s2,sf7_s3,sf7_s4,sf7_s5,sf7_s6],
 [sf8_s1,sf8_s2,sf8_s3,sf8_s4,sf8_s5,sf8_s6],
 [sf9_s1,sf9_s2,sf9_s3,sf9_s4,sf9_s5,sf9_s6],
 [sf10_s1,sf10_s2,sf10_s3,sf10_s4,sf10_s5,sf10_s6]
];

// ===== LAYOUT (pixel geometry, not data) =====
const layout=[
 {x0:81,x1:483,yT:45,yB:360,lo:0.2,hi:0.9,lg:[82,483,328,345],let:[0,24],cap:[293,465]},
 {x0:628,x1:1030,yT:45,yB:360,lo:0.3,hi:1,lg:[627,1027,342,358],let:[545,24],cap:[842,465]},
 {x0:54,x1:461,yT:553,yB:868,lo:0.3,hi:1,lg:[55,460,785,803],let:[0,535],cap:[258,975]},
 {x0:608,x1:1016,yT:552,yB:868,lo:0.3,hi:1,lg:[607,1012,794,810],let:[545,535],cap:[812,975]},
 {x0:54,x1:461,yT:1055,yB:1371,lo:0.3,hi:1,lg:[55,460,1298,1314],let:[0,1033],cap:[258,1476]},
 {x0:608,x1:1016,yT:1055,yB:1371,lo:0.3,hi:1,lg:[609,1015,1296,1311],let:[545,1033],cap:[822,1476]},
 {x0:54,x1:461,yT:1558,yB:1873,lo:0.3,hi:1,lg:[56,461,1762,1778],let:[0,1536],cap:[258,1978]},
 {x0:608,x1:1016,yT:1559,yB:1877,lo:0.3,hi:1,lg:[608,1021,1770,1785],let:[545,1536],cap:[822,1978]},
 {x0:44,x1:455,yT:2077,yB:2395,lo:0.3,hi:1,lg:[56,465,2301,2318],let:[0,2058],cap:[259,2494]},
 {x0:604,x1:1015,yT:2077,yB:2395,lo:0.3,hi:1,lg:[610,1018,2303,2320],let:[545,2058],cap:[819,2494]}
];

const NS="http://www.w3.org/2000/svg";
const svg=document.getElementById("fig");
function mk(tag,attrs,parent){const e=document.createElementNS(NS,tag);for(const k in attrs)e.setAttribute(k,attrs[k]);(parent||svg).appendChild(e);return e;}
function starPts(cx,cy,n,ro,ri){let p=[];for(let i=0;i<2*n;i++){const a=-Math.PI/2+i*Math.PI/n;const r=i%2?ri:ro;p.push((cx+r*Math.cos(a)).toFixed(1)+","+(cy+r*Math.sin(a)).toFixed(1));}return p.join(" ");}
function marker(k,cx,cy,g){
  if(k===0) return mk("circle",{cx:cx,cy:cy,r:1.4,fill:"#0000ff"},g);
  if(k===1){const r=3.6,d=2.5;return mk("path",{d:`M${cx-r},${cy}H${cx+r}M${cx},${cy-r}V${cy+r}M${cx-d},${cy-d}L${cx+d},${cy+d}M${cx-d},${cy+d}L${cx+d},${cy-d}`,stroke:"#22ee22","stroke-width":1,fill:"none"},g);}
  if(k===2) return mk("circle",{cx:cx,cy:cy,r:4.5,fill:"none",stroke:"#ee2222","stroke-width":0.9},g);
  if(k===3) return mk("polygon",{points:starPts(cx,cy,5,4.6,1.9),fill:"none",stroke:"#111","stroke-width":0.7},g);
  if(k===4){const r=4.4;return mk("path",{d:`M${cx-r},${cy}H${cx+r}M${cx},${cy-r}V${cy+r}`,stroke:"#ff00ff","stroke-width":1,fill:"none"},g);}
  return mk("polygon",{points:starPts(cx,cy,6,4.6,2.7),fill:"none",stroke:"#00e5ee","stroke-width":0.9},g);
}

layout.forEach((L,p)=>{
  const pg=mk("g",{});
  
  
  const sx=v=>L.x0+(v-0)/(100-0)*(L.x1-L.x0);
  const sy=v=>L.yB-(v-L.lo)/(L.hi-L.lo)*(L.yB-L.yT);
  // letter
  const lt=mk("text",{x:L.let[0],y:L.let[1],"font-size":26,"font-weight":"bold",fill:"#000"},pg);
  lt.textContent=letters[p];
  
  
  // axes
  const ax=mk("path",{d:`M${L.x0},${L.yT}V${L.yB}H${L.x1}`,stroke:"#808080","stroke-width":1.3,fill:"none"},pg);
  
  
  const yt=(p===0)?yTicksA:yTicksB;
  yt.forEach(v=>{
    const y=sy(v);
    mk("line",{x1:L.x0,y1:y,x2:L.x0+4,y2:y,stroke:"#808080","stroke-width":1},pg);
    const t=mk("text",{x:L.x0-6,y:y+5,"font-size":14,"text-anchor":"end",fill:"#262626"},pg);
    t.textContent=String(+v.toFixed(1));
    
    
  });
  xTicks.forEach(v=>{
    const x=sx(v);
    mk("line",{x1:x,y1:L.yB,x2:x,y2:L.yB-4,stroke:"#808080","stroke-width":1},pg);
    const t=mk("text",{x:x,y:L.yB+19,"font-size":14,"text-anchor":"middle",fill:"#262626"},pg);
    t.textContent=String(v);
    
    
  });
  const xl=mk("text",{x:(L.x0+L.x1)/2,y:L.yB+38,"font-size":14,"text-anchor":"middle",fill:"#262626"},pg);
  xl.textContent="Sample";
  
  
  const ym=(L.yT+L.yB)/2, yx=L.x0-30;
  const yl=mk("text",{x:yx,y:ym,"font-size":14,"text-anchor":"middle",fill:"#262626",transform:`rotate(-90 ${yx} ${ym})`},pg);
  yl.textContent="MPE";
  
  
  // series
  panelData[p].forEach((arr,k)=>{
    const g=mk("g",{},pg);
    
    
    arr.forEach((v,i)=>{
      const m=marker(k,sx(i+1),sy(v),g);
      
      
    });
  });
  // legend
  const [l0,l1,t0,t1]=L.lg;
  const lg=mk("g",{},pg);
  
  
  mk("rect",{x:l0,y:t0,width:l1-l0,height:t1-t0,fill:"#fff",stroke:"#7f7f7f","stroke-width":1.2},lg);
  const step=(l1-l0)/6, cy=(t0+t1)/2;
  seriesNames.forEach((nm,k)=>{
    const e=mk("g",{},lg);
    
    
    marker(k,l0+18+k*step,cy,e);
    const t=mk("text",{x:l0+35+k*step,y:cy+4,"font-size":11,fill:"#222"},e);
    t.setAttribute("style",'font-family:"Liberation Sans","Noto Sans CJK JP",sans-serif');
    t.textContent=nm;
  });
  // caption
  const c=mk("text",{x:L.cap[0],y:L.cap[1],"font-size":29,"text-anchor":"middle",fill:"#111"},pg);
  c.setAttribute("style",'font-family:"Liberation Serif",serif');
  c.textContent=captions[p];
  
  
});
</script>
</body></html>
